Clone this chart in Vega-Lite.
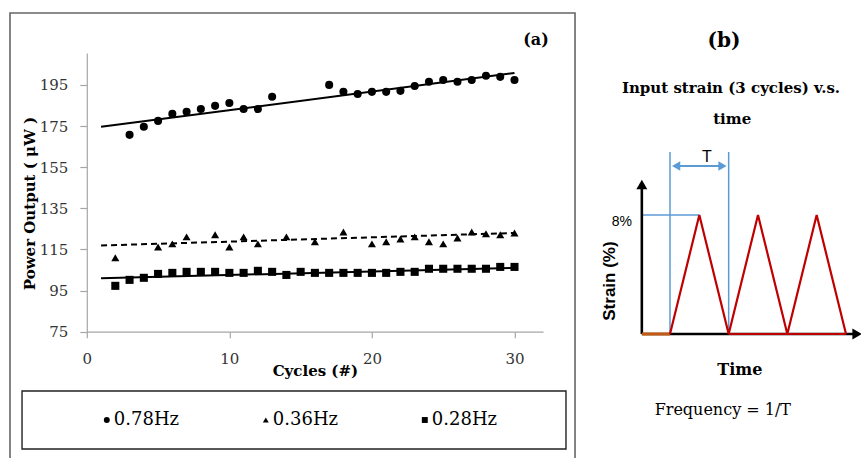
{
"$schema":"https://vega.github.io/schema/vega-lite/v6.json",
"width":456.2,"height":278.7,
"autosize":{"type":"none"},
"padding":{"left":86.8,"top":53,"right":318,"bottom":126.3},
"background":"white",
"config":{"view":{"stroke":null},"font":"DejaVu Serif"},
"datasets":{
"pts":[
{"series":"0.78Hz","cycle":3,"power":170.7},{"series":"0.78Hz","cycle":4,"power":174.6},{"series":"0.78Hz","cycle":5,"power":177.5},{"series":"0.78Hz","cycle":6,"power":180.9},{"series":"0.78Hz","cycle":7,"power":181.9},{"series":"0.78Hz","cycle":8,"power":183.3},{"series":"0.78Hz","cycle":9,"power":184.8},{"series":"0.78Hz","cycle":10,"power":186.2},{"series":"0.78Hz","cycle":11,"power":183.3},{"series":"0.78Hz","cycle":12,"power":183.3},{"series":"0.78Hz","cycle":13,"power":189.2},{"series":"0.78Hz","cycle":17,"power":195.0},{"series":"0.78Hz","cycle":18,"power":191.6},{"series":"0.78Hz","cycle":19,"power":190.6},{"series":"0.78Hz","cycle":20,"power":191.6},{"series":"0.78Hz","cycle":21,"power":191.6},{"series":"0.78Hz","cycle":22,"power":192.1},{"series":"0.78Hz","cycle":23,"power":194.5},{"series":"0.78Hz","cycle":24,"power":196.5},{"series":"0.78Hz","cycle":25,"power":197.4},{"series":"0.78Hz","cycle":26,"power":196.5},{"series":"0.78Hz","cycle":27,"power":197.4},{"series":"0.78Hz","cycle":28,"power":199.4},{"series":"0.78Hz","cycle":29,"power":198.9},{"series":"0.78Hz","cycle":30,"power":197.4},
{"series":"0.36Hz","cycle":2,"power":110.9},{"series":"0.36Hz","cycle":5,"power":116.2},{"series":"0.36Hz","cycle":6,"power":117.7},{"series":"0.36Hz","cycle":7,"power":121.1},{"series":"0.36Hz","cycle":9,"power":122.1},{"series":"0.36Hz","cycle":10,"power":116.2},{"series":"0.36Hz","cycle":11,"power":121.1},{"series":"0.36Hz","cycle":12,"power":117.7},{"series":"0.36Hz","cycle":14,"power":121.1},{"series":"0.36Hz","cycle":16,"power":118.7},{"series":"0.36Hz","cycle":18,"power":123.5},{"series":"0.36Hz","cycle":20,"power":117.7},{"series":"0.36Hz","cycle":21,"power":118.7},{"series":"0.36Hz","cycle":22,"power":120.1},{"series":"0.36Hz","cycle":23,"power":121.1},{"series":"0.36Hz","cycle":24,"power":118.7},{"series":"0.36Hz","cycle":25,"power":117.7},{"series":"0.36Hz","cycle":26,"power":120.6},{"series":"0.36Hz","cycle":27,"power":123.5},{"series":"0.36Hz","cycle":28,"power":122.6},{"series":"0.36Hz","cycle":29,"power":122.1},{"series":"0.36Hz","cycle":30,"power":123.0},
{"series":"0.28Hz","cycle":2,"power":97.3},{"series":"0.28Hz","cycle":3,"power":100.2},{"series":"0.28Hz","cycle":4,"power":101.2},{"series":"0.28Hz","cycle":5,"power":103.1},{"series":"0.28Hz","cycle":6,"power":103.6},{"series":"0.28Hz","cycle":7,"power":104.1},{"series":"0.28Hz","cycle":8,"power":104.1},{"series":"0.28Hz","cycle":9,"power":104.1},{"series":"0.28Hz","cycle":10,"power":103.6},{"series":"0.28Hz","cycle":11,"power":103.6},{"series":"0.28Hz","cycle":12,"power":104.6},{"series":"0.28Hz","cycle":13,"power":104.1},{"series":"0.28Hz","cycle":14,"power":102.6},{"series":"0.28Hz","cycle":15,"power":104.1},{"series":"0.28Hz","cycle":16,"power":103.6},{"series":"0.28Hz","cycle":17,"power":103.6},{"series":"0.28Hz","cycle":18,"power":103.6},{"series":"0.28Hz","cycle":19,"power":103.6},{"series":"0.28Hz","cycle":20,"power":103.6},{"series":"0.28Hz","cycle":21,"power":103.6},{"series":"0.28Hz","cycle":22,"power":104.1},{"series":"0.28Hz","cycle":23,"power":104.1},{"series":"0.28Hz","cycle":24,"power":105.6},{"series":"0.28Hz","cycle":25,"power":105.6},{"series":"0.28Hz","cycle":26,"power":105.6},{"series":"0.28Hz","cycle":27,"power":105.6},{"series":"0.28Hz","cycle":28,"power":105.6},{"series":"0.28Hz","cycle":29,"power":106.5},{"series":"0.28Hz","cycle":30,"power":106.5}
],
"trend":[
{"fit":"0.78Hz","cycle":1,"power":174.6},{"fit":"0.78Hz","cycle":30,"power":200.8},
{"fit":"0.36Hz","cycle":1,"power":116.9},{"fit":"0.36Hz","cycle":30,"power":123.0},
{"fit":"0.28Hz","cycle":1,"power":101.0},{"fit":"0.28Hz","cycle":30,"power":106.0}
],
"wave":[
{"t":0,"strain":0},{"t":0.5,"strain":8},{"t":1,"strain":0},{"t":1.5,"strain":8},{"t":2,"strain":0},{"t":2.5,"strain":8},{"t":3,"strain":0}
]
},
"resolve":{"scale":{"x":"independent","y":"independent"}},
"layer":[
{"layer":[
{"data":{"name":"trend"},
 "transform":[{"filter":"datum.fit !== '0.36Hz'"}],
 "mark":{"type":"line","color":"black","strokeWidth":2,"clip":false},
 "encoding":{
 "x":{"field":"cycle","type":"quantitative","scale":{"domain":[0,32],"nice":false,"zero":false},
  "axis":{"values":[0,10,20,30],"title":"Cycles (#)","titleFont":"DejaVu Serif","titleFontWeight":"bold","titleFontSize":15,"titleColor":"#000","titleY":39,"titleBaseline":"middle",
   "labelFont":"DejaVu Serif","labelFontSize":15,"labelColor":"#333","labelPadding":14,"tickSize":6,"domainColor":"#a6a6a6","tickColor":"#a6a6a6","domainWidth":1.2,"tickWidth":1.2,"grid":false,"labelFlush":false,"labelOverlap":false}},
 "y":{"field":"power","type":"quantitative","scale":{"domain":[75,210.5],"nice":false,"zero":false},
  "axis":{"values":[75,95,115,135,155,175,195],"title":"Power Output ( μW )","titleFont":"DejaVu Serif","titleFontWeight":"bold","titleFontSize":15,"titleColor":"#000","titleX":-57,"titleY":150,"titleBaseline":"middle",
   "labelFont":"DejaVu Serif","labelFontSize":15,"labelColor":"#333","labelPadding":12,"tickSize":7,"domainColor":"#a6a6a6","tickColor":"#a6a6a6","domainWidth":1.2,"tickWidth":1.2,"grid":false,"labelFlush":false,"labelOverlap":false}},
 "detail":{"field":"fit","type":"nominal"}}},
{"data":{"name":"trend"},
 "transform":[{"filter":"datum.fit === '0.36Hz'"}],
 "mark":{"type":"line","color":"black","strokeWidth":2,"strokeDash":[6,4],"clip":false},
 "encoding":{
 "x":{"field":"cycle","type":"quantitative","scale":{"domain":[0,32],"nice":false,"zero":false},
  "axis":{"values":[0,10,20,30],"title":"Cycles (#)","titleFont":"DejaVu Serif","titleFontWeight":"bold","titleFontSize":15,"titleColor":"#000","titleY":39,"titleBaseline":"middle",
   "labelFont":"DejaVu Serif","labelFontSize":15,"labelColor":"#333","labelPadding":14,"tickSize":6,"domainColor":"#a6a6a6","tickColor":"#a6a6a6","domainWidth":1.2,"tickWidth":1.2,"grid":false,"labelFlush":false,"labelOverlap":false}},
 "y":{"field":"power","type":"quantitative","scale":{"domain":[75,210.5],"nice":false,"zero":false},
  "axis":{"values":[75,95,115,135,155,175,195],"title":"Power Output ( μW )","titleFont":"DejaVu Serif","titleFontWeight":"bold","titleFontSize":15,"titleColor":"#000","titleX":-57,"titleY":150,"titleBaseline":"middle",
   "labelFont":"DejaVu Serif","labelFontSize":15,"labelColor":"#333","labelPadding":12,"tickSize":7,"domainColor":"#a6a6a6","tickColor":"#a6a6a6","domainWidth":1.2,"tickWidth":1.2,"grid":false,"labelFlush":false,"labelOverlap":false}}}},
{"data":{"name":"pts"},
 "mark":{"type":"point","filled":true,"color":"black","size":65,"opacity":1,"clip":false},
 "encoding":{
 "x":{"field":"cycle","type":"quantitative","scale":{"domain":[0,32],"nice":false,"zero":false},
  "axis":{"values":[0,10,20,30],"title":"Cycles (#)","titleFont":"DejaVu Serif","titleFontWeight":"bold","titleFontSize":15,"titleColor":"#000","titleY":39,"titleBaseline":"middle",
   "labelFont":"DejaVu Serif","labelFontSize":15,"labelColor":"#333","labelPadding":14,"tickSize":6,"domainColor":"#a6a6a6","tickColor":"#a6a6a6","domainWidth":1.2,"tickWidth":1.2,"grid":false,"labelFlush":false,"labelOverlap":false}},
 "y":{"field":"power","type":"quantitative","scale":{"domain":[75,210.5],"nice":false,"zero":false},
  "axis":{"values":[75,95,115,135,155,175,195],"title":"Power Output ( μW )","titleFont":"DejaVu Serif","titleFontWeight":"bold","titleFontSize":15,"titleColor":"#000","titleX":-57,"titleY":150,"titleBaseline":"middle",
   "labelFont":"DejaVu Serif","labelFontSize":15,"labelColor":"#333","labelPadding":12,"tickSize":7,"domainColor":"#a6a6a6","tickColor":"#a6a6a6","domainWidth":1.2,"tickWidth":1.2,"grid":false,"labelFlush":false,"labelOverlap":false}},
 "shape":{"field":"series","type":"nominal","scale":{"domain":["0.78Hz","0.36Hz","0.28Hz"],"range":["circle","triangle-up","square"]},
  "legend":{"title":null,"orient":"none","legendX":11,"legendY":358,"direction":"horizontal","columns":3,"columnPadding":77,"labelFont":"DejaVu Serif","labelFontSize":18,"labelColor":"#000","symbolSize":35,"symbolFillColor":"#000","symbolStrokeColor":"#000","symbolStrokeWidth":0,"labelOffset":-2,"padding":0}}}}
]},
{"layer":[
{"data":{"values":[{}]},
 "mark":{"type":"rect","filled":false,"stroke":"#666666","strokeWidth":1.6,"clip":false},
 "encoding":{"x":{"datum":-11.25,"type":"quantitative","scale":{"domain":[0,3],"range":[583.2,759.2],"nice":false,"zero":false},"axis":null},"x2":{"datum":-1.619},
 "y":{"datum":21.58,"type":"quantitative","scale":{"domain":[0,8],"range":[281,162],"nice":false,"zero":false},"axis":null},"y2":{"datum":-9.5}}},
{"data":{"values":[{}]},
 "mark":{"type":"rect","filled":false,"stroke":"#222222","strokeWidth":1.4,"clip":false},
 "encoding":{"x":{"datum":-11.045,"type":"quantitative","scale":{"domain":[0,3],"range":[583.2,759.2],"nice":false,"zero":false},"axis":null},"x2":{"datum":-1.773},
 "y":{"datum":-3.832,"type":"quantitative","scale":{"domain":[0,8],"range":[281,162],"nice":false,"zero":false},"axis":null},"y2":{"datum":-7.731}}},
{"data":{"values":[{}]},
 "mark":{"type":"text","text":"(a)","font":"DejaVu Serif","fontWeight":"bold","fontSize":16,"color":"#000","align":"center","baseline":"middle","clip":false},
 "encoding":{"x":{"datum":-2.284,"type":"quantitative","scale":{"domain":[0,3],"range":[583.2,759.2],"nice":false,"zero":false},"axis":null},
 "y":{"datum":19.76,"type":"quantitative","scale":{"domain":[0,8],"range":[281,162],"nice":false,"zero":false},"axis":null}}},
{"data":{"values":[{}]},
 "mark":{"type":"rule","color":"#5B9BD5","strokeWidth":1.5,"clip":false},
 "encoding":{"x":{"datum":0,"type":"quantitative","scale":{"domain":[0,3],"range":[583.2,759.2],"nice":false,"zero":false},"axis":null},
 "y":{"datum":0,"type":"quantitative","scale":{"domain":[0,8],"range":[281,162],"nice":false,"zero":false},"axis":null},"y2":{"datum":12.24}}},
{"data":{"values":[{}]},
 "mark":{"type":"rule","color":"#5B9BD5","strokeWidth":1.5,"clip":false},
 "encoding":{"x":{"datum":1,"type":"quantitative","scale":{"domain":[0,3],"range":[583.2,759.2],"nice":false,"zero":false},"axis":null},
 "y":{"datum":0,"type":"quantitative","scale":{"domain":[0,8],"range":[281,162],"nice":false,"zero":false},"axis":null},"y2":{"datum":12.24}}},
{"data":{"values":[{}]},
 "mark":{"type":"rule","color":"#5B9BD5","strokeWidth":1.5,"clip":false},
 "encoding":{"x":{"datum":-0.46,"type":"quantitative","scale":{"domain":[0,3],"range":[583.2,759.2],"nice":false,"zero":false},"axis":null},"x2":{"datum":0.5},
 "y":{"datum":8,"type":"quantitative","scale":{"domain":[0,8],"range":[281,162],"nice":false,"zero":false},"axis":null}}},
{"data":{"values":[{}]},
 "mark":{"type":"rule","color":"#5B9BD5","strokeWidth":2,"clip":false},
 "encoding":{"x":{"datum":0.08,"type":"quantitative","scale":{"domain":[0,3],"range":[583.2,759.2],"nice":false,"zero":false},"axis":null},"x2":{"datum":0.92},
 "y":{"datum":11.29,"type":"quantitative","scale":{"domain":[0,8],"range":[281,162],"nice":false,"zero":false},"axis":null}}},
{"data":{"values":[{}]},
 "mark":{"type":"point","shape":"triangle-left","filled":true,"color":"#5B9BD5","size":90,"opacity":1,"clip":false},
 "encoding":{"x":{"datum":0.105,"type":"quantitative","scale":{"domain":[0,3],"range":[583.2,759.2],"nice":false,"zero":false},"axis":null},
 "y":{"datum":11.29,"type":"quantitative","scale":{"domain":[0,8],"range":[281,162],"nice":false,"zero":false},"axis":null}}},
{"data":{"values":[{}]},
 "mark":{"type":"point","shape":"triangle-right","filled":true,"color":"#5B9BD5","size":90,"opacity":1,"clip":false},
 "encoding":{"x":{"datum":0.895,"type":"quantitative","scale":{"domain":[0,3],"range":[583.2,759.2],"nice":false,"zero":false},"axis":null},
 "y":{"datum":11.29,"type":"quantitative","scale":{"domain":[0,8],"range":[281,162],"nice":false,"zero":false},"axis":null}}},
{"data":{"values":[{}]},
 "mark":{"type":"rule","color":"#000000","strokeWidth":2.6,"clip":false},
 "encoding":{"x":{"datum":-0.48,"type":"quantitative","scale":{"domain":[0,3],"range":[583.2,759.2],"nice":false,"zero":false},"axis":null},"x2":{"datum":3.15},
 "y":{"datum":0,"type":"quantitative","scale":{"domain":[0,8],"range":[281,162],"nice":false,"zero":false},"axis":null}}},
{"data":{"values":[{}]},
 "mark":{"type":"rule","color":"#000000","strokeWidth":2.6,"clip":false},
 "encoding":{"x":{"datum":-0.48,"type":"quantitative","scale":{"domain":[0,3],"range":[583.2,759.2],"nice":false,"zero":false},"axis":null},
 "y":{"datum":0,"type":"quantitative","scale":{"domain":[0,8],"range":[281,162],"nice":false,"zero":false},"axis":null},"y2":{"datum":9.8}}},
{"data":{"values":[{}]},
 "mark":{"type":"point","shape":"triangle-up","filled":true,"color":"#000000","size":120,"opacity":1,"clip":false},
 "encoding":{"x":{"datum":-0.48,"type":"quantitative","scale":{"domain":[0,3],"range":[583.2,759.2],"nice":false,"zero":false},"axis":null},
 "y":{"datum":10.05,"type":"quantitative","scale":{"domain":[0,8],"range":[281,162],"nice":false,"zero":false},"axis":null}}},
{"data":{"values":[{}]},
 "mark":{"type":"point","shape":"triangle-right","filled":true,"color":"#000000","size":120,"opacity":1,"clip":false},
 "encoding":{"x":{"datum":3.19,"type":"quantitative","scale":{"domain":[0,3],"range":[583.2,759.2],"nice":false,"zero":false},"axis":null},
 "y":{"datum":0,"type":"quantitative","scale":{"domain":[0,8],"range":[281,162],"nice":false,"zero":false},"axis":null}}},
{"data":{"values":[{}]},
 "mark":{"type":"rule","color":"#C55A11","strokeWidth":3,"clip":false},
 "encoding":{"x":{"datum":-0.48,"type":"quantitative","scale":{"domain":[0,3],"range":[583.2,759.2],"nice":false,"zero":false},"axis":null},"x2":{"datum":0},
 "y":{"datum":0,"type":"quantitative","scale":{"domain":[0,8],"range":[281,162],"nice":false,"zero":false},"axis":null}}},
{"data":{"values":[{}]},
 "mark":{"type":"rule","color":"#C00000","strokeWidth":2.2,"clip":false},
 "encoding":{"x":{"datum":1,"type":"quantitative","scale":{"domain":[0,3],"range":[583.2,759.2],"nice":false,"zero":false},"axis":null},"x2":{"datum":3},
 "y":{"datum":0,"type":"quantitative","scale":{"domain":[0,8],"range":[281,162],"nice":false,"zero":false},"axis":null}}},
{"data":{"name":"wave"},
 "mark":{"type":"line","color":"#C00000","strokeWidth":2.2,"clip":false},
 "encoding":{"x":{"field":"t","type":"quantitative","scale":{"domain":[0,3],"range":[583.2,759.2],"nice":false,"zero":false},"axis":null},
 "y":{"field":"strain","type":"quantitative","scale":{"domain":[0,8],"range":[281,162],"nice":false,"zero":false},"axis":null}}},
{"data":{"values":[{}]},
 "mark":{"type":"text","text":"(b)","font":"DejaVu Serif","fontWeight":"bold","fontSize":20,"color":"#000","align":"center","baseline":"middle","clip":false},
 "encoding":{"x":{"datum":0.92,"type":"quantitative","scale":{"domain":[0,3],"range":[583.2,759.2],"nice":false,"zero":false},"axis":null},
 "y":{"datum":19.7,"type":"quantitative","scale":{"domain":[0,8],"range":[281,162],"nice":false,"zero":false},"axis":null}}},
{"data":{"values":[{}]},
 "mark":{"type":"text","text":"Input strain (3 cycles) v.s.","font":"DejaVu Serif","fontWeight":"bold","fontSize":15,"color":"#000","align":"center","baseline":"middle","clip":false},
 "encoding":{"x":{"datum":1.04,"type":"quantitative","scale":{"domain":[0,3],"range":[583.2,759.2],"nice":false,"zero":false},"axis":null},
 "y":{"datum":16.54,"type":"quantitative","scale":{"domain":[0,8],"range":[281,162],"nice":false,"zero":false},"axis":null}}},
{"data":{"values":[{}]},
 "mark":{"type":"text","text":"time","font":"DejaVu Serif","fontWeight":"bold","fontSize":15,"color":"#000","align":"center","baseline":"middle","clip":false},
 "encoding":{"x":{"datum":1.06,"type":"quantitative","scale":{"domain":[0,3],"range":[583.2,759.2],"nice":false,"zero":false},"axis":null},
 "y":{"datum":14.45,"type":"quantitative","scale":{"domain":[0,8],"range":[281,162],"nice":false,"zero":false},"axis":null}}},
{"data":{"values":[{}]},
 "mark":{"type":"text","text":"T","font":"Liberation Sans","fontSize":16,"color":"#000","align":"center","baseline":"middle","clip":false},
 "encoding":{"x":{"datum":0.63,"type":"quantitative","scale":{"domain":[0,3],"range":[583.2,759.2],"nice":false,"zero":false},"axis":null},
 "y":{"datum":11.9,"type":"quantitative","scale":{"domain":[0,8],"range":[281,162],"nice":false,"zero":false},"axis":null}}},
{"data":{"values":[{}]},
 "mark":{"type":"text","text":"8%","font":"Liberation Sans","fontSize":14,"color":"#000","align":"center","baseline":"middle","clip":false},
 "encoding":{"x":{"datum":-0.82,"type":"quantitative","scale":{"domain":[0,3],"range":[583.2,759.2],"nice":false,"zero":false},"axis":null},
 "y":{"datum":7.53,"type":"quantitative","scale":{"domain":[0,8],"range":[281,162],"nice":false,"zero":false},"axis":null}}},
{"data":{"values":[{}]},
 "mark":{"type":"text","text":"Strain (%)","font":"Liberation Sans","fontWeight":"bold","fontSize":17,"angle":270,"color":"#000","align":"center","baseline":"middle","clip":false},
 "encoding":{"x":{"datum":-1.02,"type":"quantitative","scale":{"domain":[0,3],"range":[583.2,759.2],"nice":false,"zero":false},"axis":null},
 "y":{"datum":3.56,"type":"quantitative","scale":{"domain":[0,8],"range":[281,162],"nice":false,"zero":false},"axis":null}}},
{"data":{"values":[{}]},
 "mark":{"type":"text","text":"Time","font":"DejaVu Serif","fontWeight":"bold","fontSize":16,"color":"#000","align":"center","baseline":"middle","clip":false},
 "encoding":{"x":{"datum":1.19,"type":"quantitative","scale":{"domain":[0,3],"range":[583.2,759.2],"nice":false,"zero":false},"axis":null},
 "y":{"datum":-2.42,"type":"quantitative","scale":{"domain":[0,8],"range":[281,162],"nice":false,"zero":false},"axis":null}}},
{"data":{"values":[{}]},
 "mark":{"type":"text","text":"Frequency = 1/T","font":"DejaVu Serif","fontSize":16,"color":"#000","align":"center","baseline":"middle","clip":false},
 "encoding":{"x":{"datum":0.9,"type":"quantitative","scale":{"domain":[0,3],"range":[583.2,759.2],"nice":false,"zero":false},"axis":null},
 "y":{"datum":-5.1,"type":"quantitative","scale":{"domain":[0,8],"range":[281,162],"nice":false,"zero":false},"axis":null}}}
]}
]
}
